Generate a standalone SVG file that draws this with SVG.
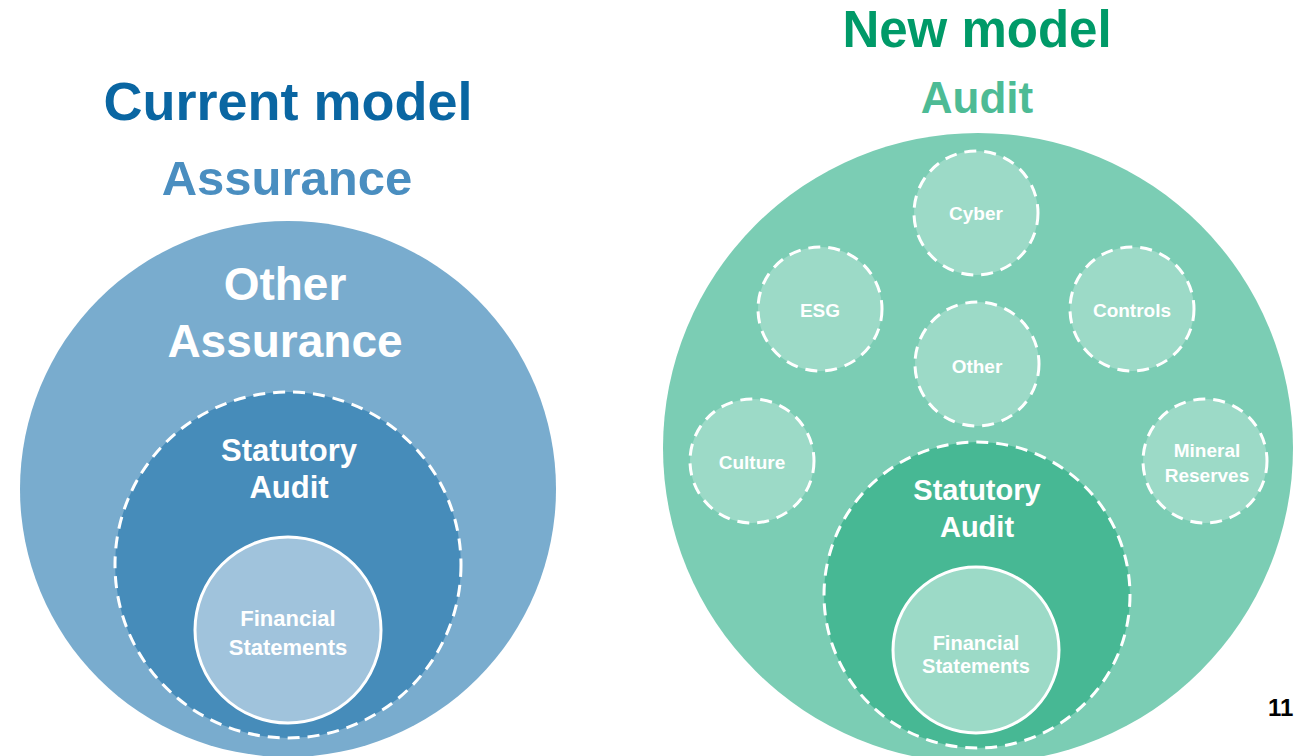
<svg xmlns="http://www.w3.org/2000/svg" width="1295" height="756" viewBox="0 0 1295 756">
<style>
text{font-family:"Liberation Sans",Arial,sans-serif;font-weight:bold;text-anchor:middle}
.w{fill:#ffffff}
.dash{stroke:#ffffff;stroke-width:3;stroke-dasharray:12 8;fill:none}
.solid{stroke:#ffffff;stroke-width:3}
.sm{font-size:19px}
</style>
<rect width="1295" height="756" fill="#ffffff"/>
<g id="left">
<text x="288" y="120" font-size="54" fill="#0a66a2">Current model</text>
<text x="287" y="195" font-size="49" fill="#4a8ec0">Assurance</text>
<g id="other-assurance">
<circle cx="288" cy="489" r="268" fill="#79acce"/>
<text class="w" x="285" y="300" font-size="46">Other</text>
<text class="w" x="285" y="357" font-size="46">Assurance</text>
</g>
<g id="statutory-left">
<circle cx="288" cy="565" r="173" fill="#468cba"/>
<circle class="dash" cx="288" cy="565" r="173"/>
<text class="w" x="289" y="461" font-size="31">Statutory</text>
<text class="w" x="289" y="498" font-size="31">Audit</text>
</g>
<g id="fs-left">
<circle class="solid" cx="288" cy="630" r="93" fill="#a0c3dc"/>
<text class="w" x="288" y="626" font-size="22">Financial</text>
<text class="w" x="288" y="655" font-size="22">Statements</text>
</g>
</g>
<g id="right">
<text x="977" y="47" font-size="51" fill="#009a68">New model</text>
<text x="977" y="113" font-size="44" fill="#4dbb95">Audit</text>
<g id="audit">
<circle cx="978" cy="448" r="315" fill="#7bcdb4"/>
</g>
<g id="cyber"><circle cx="976" cy="213" r="62" fill="#9cdac7"/><circle class="dash" cx="976" cy="213" r="62"/><text class="w sm" x="976" y="220">Cyber</text></g>
<g id="esg"><circle cx="820" cy="309" r="62" fill="#9cdac7"/><circle class="dash" cx="820" cy="309" r="62"/><text class="w sm" x="820" y="317">ESG</text></g>
<g id="controls"><circle cx="1132" cy="309" r="62" fill="#9cdac7"/><circle class="dash" cx="1132" cy="309" r="62"/><text class="w sm" x="1132" y="317">Controls</text></g>
<g id="other"><circle cx="977" cy="364" r="62" fill="#9cdac7"/><circle class="dash" cx="977" cy="364" r="62"/><text class="w sm" x="977" y="373">Other</text></g>
<g id="culture"><circle cx="752" cy="461" r="62" fill="#9cdac7"/><circle class="dash" cx="752" cy="461" r="62"/><text class="w sm" x="752" y="469">Culture</text></g>
<g id="mineral"><circle cx="1205" cy="461" r="62" fill="#9cdac7"/><circle class="dash" cx="1205" cy="461" r="62"/><text class="w sm" x="1207" y="457">Mineral</text><text class="w sm" x="1207" y="482">Reserves</text></g>
<g id="statutory-right">
<circle cx="977" cy="595" r="153" fill="#47b894"/>
<circle class="dash" cx="977" cy="595" r="153"/>
<text class="w" x="977" y="500" font-size="29">Statutory</text>
<text class="w" x="977" y="537" font-size="29">Audit</text>
</g>
<g id="fs-right">
<circle class="solid" cx="976" cy="650" r="83" fill="#9cdac7"/>
<text class="w" x="976" y="650" font-size="20">Financial</text>
<text class="w" x="976" y="673" font-size="20">Statements</text>
</g>
</g>
<g id="connectors"/>
<text x="1268" y="716" font-size="24" fill="#000000" style="text-anchor:start">11</text>
</svg>
